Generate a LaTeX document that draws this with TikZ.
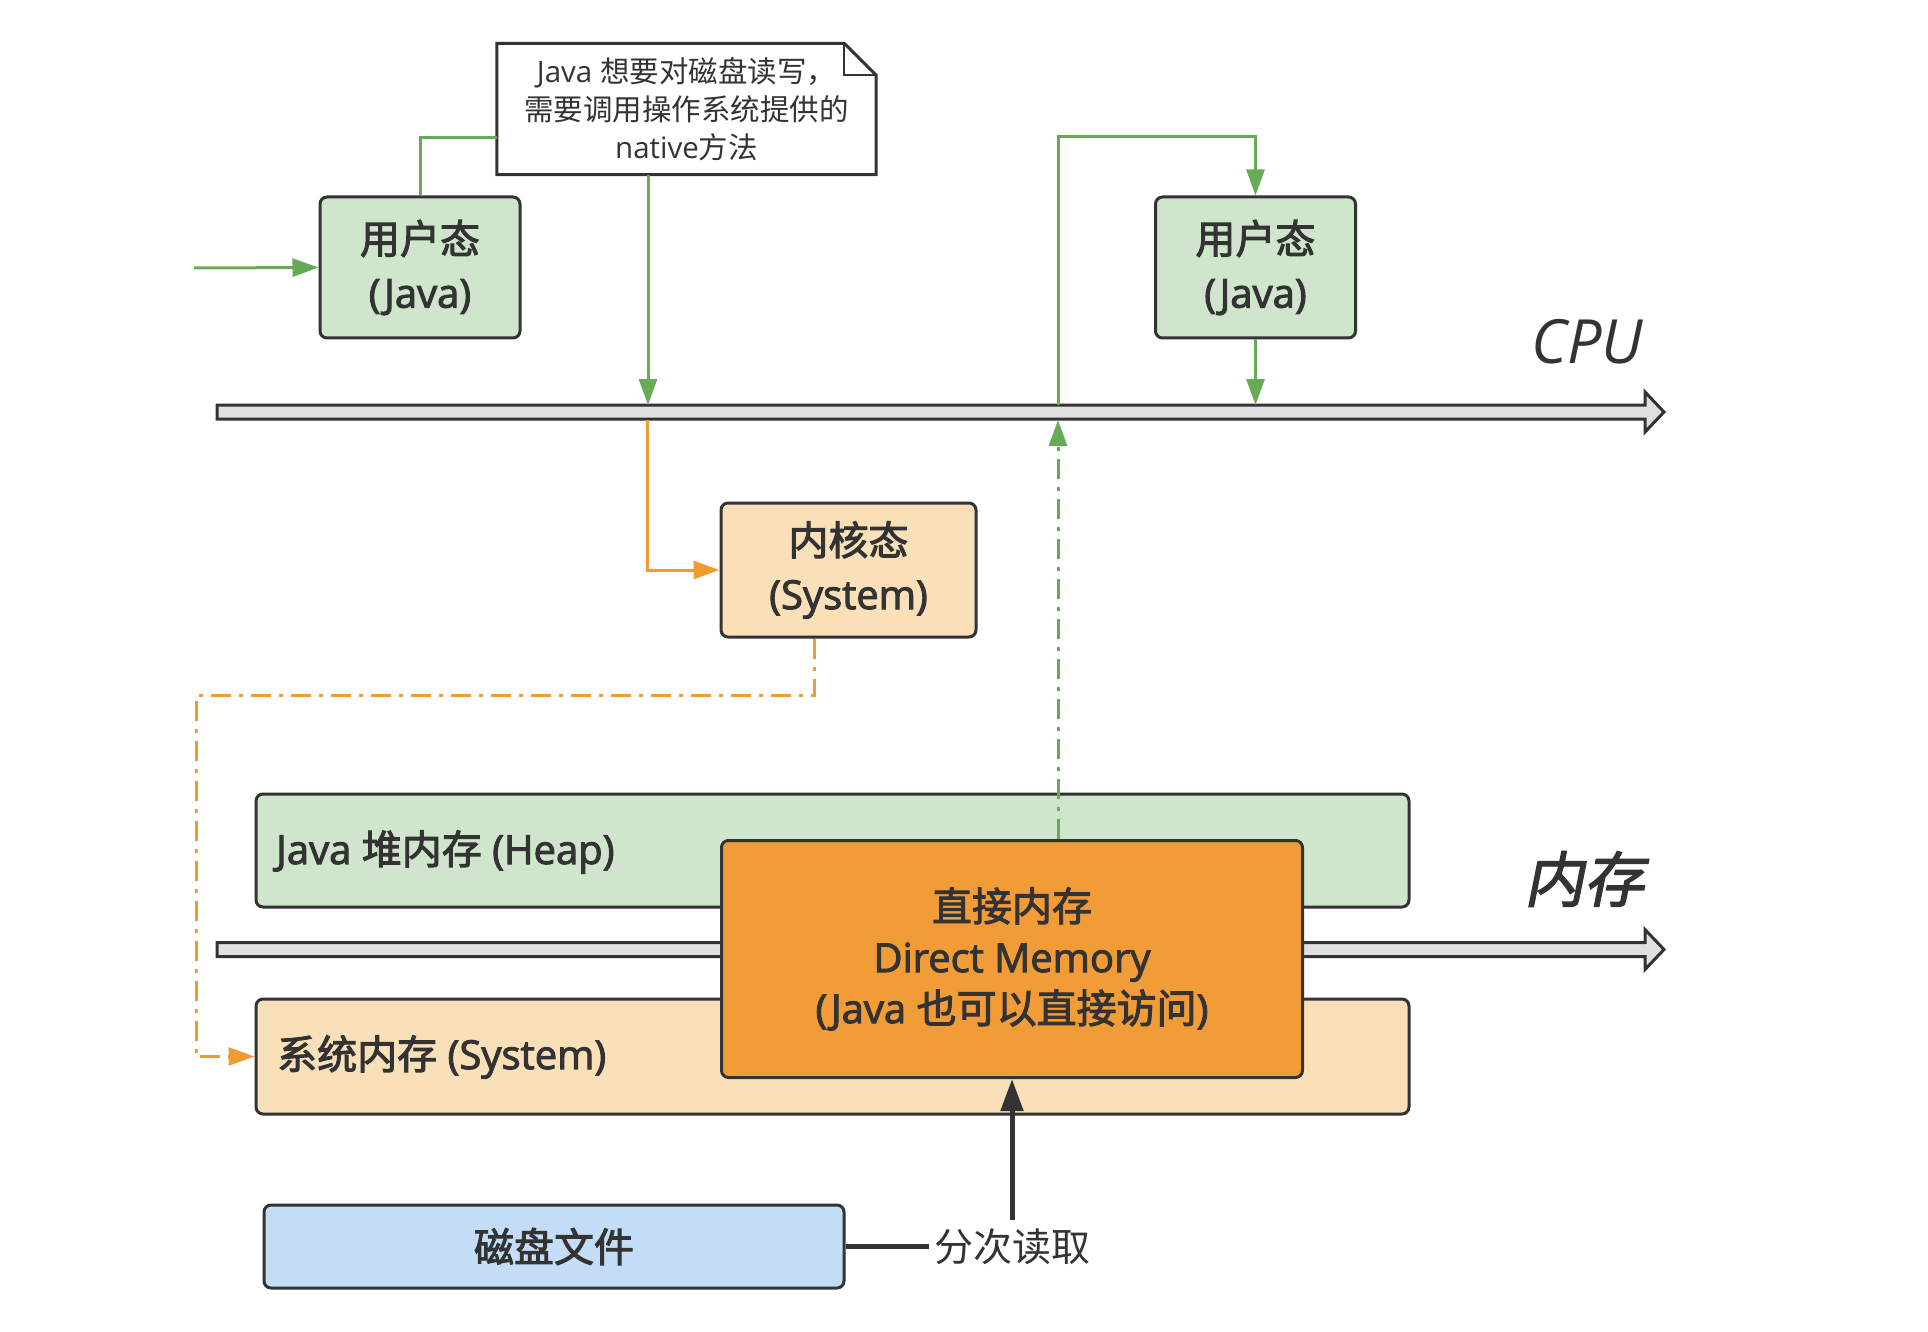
\documentclass[tikz,border=0pt]{standalone}
\usepackage{fontspec}
\setmainfont{Noto Sans CJK SC}
\newfontfamily\cjkm[FakeBold=2.5]{Noto Sans CJK SC}
\newfontfamily\latm[FakeBold=2.5]{Open Sans}
\newfontfamily\lat{Open Sans}
\newfontfamily\cjkit[FakeSlant=0.2,FakeBold=2.2]{Noto Sans CJK SC}
\usetikzlibrary{arrows.meta}
\definecolor{gfill}{HTML}{D0E6CC}
\definecolor{gline}{HTML}{67AB57}
\definecolor{ofill}{HTML}{FAE0B8}
\definecolor{oline}{HTML}{F09C35}
\definecolor{dfill}{HTML}{F19C37}
\definecolor{bfill}{HTML}{C3DDF6}
\definecolor{dk}{HTML}{333333}
\definecolor{barfill}{HTML}{E0E0E0}
\tikzset{
  box/.style={draw=dk, line width=3pt, rounded corners=7pt, align=center, text=dk, inner sep=0pt,
    font=\fontsize{40}{54}\selectfont},
  boxtext/.style={text=dk, font=\fontsize{40}{54}\selectfont, inner sep=0pt},
  gconn/.style={draw=gline, line width=3pt},
  oconn/.style={draw=oline, line width=3pt},
  dashdot/.style={dash pattern=on 20pt off 8pt on 4pt off 8pt},
  tri/.style={-{Triangle[length=26pt,width=18pt]}},
  barstyle/.style={draw=dk, fill=barfill, line width=3pt, line join=miter},
}
\newcommand\mybar[1]{\draw[barstyle] (217,#1-7) -- (1645,#1-7) -- (1645,#1-20) -- (1664,#1) -- (1645,#1+20) -- (1645,#1+7) -- (217,#1+7) -- cycle;}
\begin{document}
\begin{tikzpicture}[x=1pt,y=-1pt]
\useasboundingbox (0,0) rectangle (1928,1332);
% bars
\mybar{412}
\mybar{949.5}
\coordinate (cpuA) at (648,405);
\coordinate (cpuC) at (647,420);
\coordinate (cpuB) at (1058,405);
\coordinate (cpuD) at (1058,420);
\coordinate (in) at (194,268);
% labels
\node[font=\lat\itshape\fontsize{61}{61}\selectfont, text=dk] (cpu) at (1587,342) {CPU};
\node[font=\cjkit\fontsize{60}{60}\selectfont, text=dk] (mem) at (1584,879) {内存};
% note
\node[align=center, text=dk, inner sep=0pt, minimum width=379pt, minimum height=131pt,
  font=\fontsize{29.5}{38}\selectfont] (nt) at (686.5,109) {{\lat Java }想要对磁盘读写，\\需要调用操作系统提供的\\{\lat native}方法};
\draw[draw=dk, line width=3pt, line join=miter] (nt.north west) -- ([xshift=-32pt]nt.north east) -- ([yshift=-32pt]nt.north east) -- (nt.south east) -- (nt.south west) -- cycle;
\draw[draw=dk, line width=2pt] ([xshift=-32pt]nt.north east) -- ([xshift=-32pt,yshift=-32pt]nt.north east) -- ([yshift=-32pt]nt.north east);
% state boxes
\node[box, fill=gfill, minimum width=200pt, minimum height=141pt] (u1) at (420,267.5) {{\cjkm 用户态}\\{\latm (Java)}};
\node[box, fill=gfill, minimum width=200pt, minimum height=141pt] (u2) at (1255.5,267.5) {{\cjkm 用户态}\\{\latm (Java)}};
\node[box, fill=ofill, minimum width=255pt, minimum height=134pt] (k) at (848.5,570) {{\cjkm 内核态}\\{\latm (System)}};
% memory boxes
\node[box, fill=gfill, minimum width=1153pt, minimum height=113pt] (heap) at (832.5,850.5) {};
\node[boxtext, anchor=west] (heapt) at (276,852) {{\latm Java }{\cjkm 堆内存}{\latm\ (Heap)}};
\node[box, fill=ofill, minimum width=1153pt, minimum height=115pt] (sys) at (832.5,1056.5) {};
\node[boxtext, anchor=west] (syst) at (277,1057) {{\cjkm 系统内存}{\latm\ (System)}};
\node[box, fill=dfill, minimum width=581pt, minimum height=237pt, font=\fontsize{40}{51}\selectfont] (direct) at (1012,959) {{\cjkm 直接内存}\\{\latm Direct Memory}\\{\latm (Java }{\cjkm 也可以直接访问}{\latm )}};
\node[box, fill=bfill, minimum width=580pt, minimum height=83pt] (disk) at (554,1246.5) {{\cjkm 磁盘文件}};
% connectors
\draw[gconn, tri] (in) -- (u1.west);
\draw[gconn] (u1.north) |- ([yshift=-28.5pt]nt.west);
\draw[gconn, tri] (nt.south -| cpuA) -- (cpuA);
\draw[oconn, tri] (cpuC) |- (k.west);
\draw[gconn, tri] (cpuB) -- (cpuB |- 0,137) -| (u2.north);
\draw[gconn, tri] (u2.south) -- (u2.south |- cpuB);
\draw[oconn, dashdot, tri] ([xshift=-34.5pt]k.south) |- (196,695) |- (sys.west);
\draw[gconn, dashdot, tri] (direct.north -| cpuD) -- (cpuD);
\draw[draw=dk, line width=5pt, -{Triangle[length=32pt,width=22pt]}] (disk.east) -| node[pos=0.5, fill=white, text=dk, inner xsep=5pt, inner ysep=8pt, font=\fontsize{39}{40}\selectfont] (rd) {分次读取} (direct.south);
\end{tikzpicture}
\end{document}
